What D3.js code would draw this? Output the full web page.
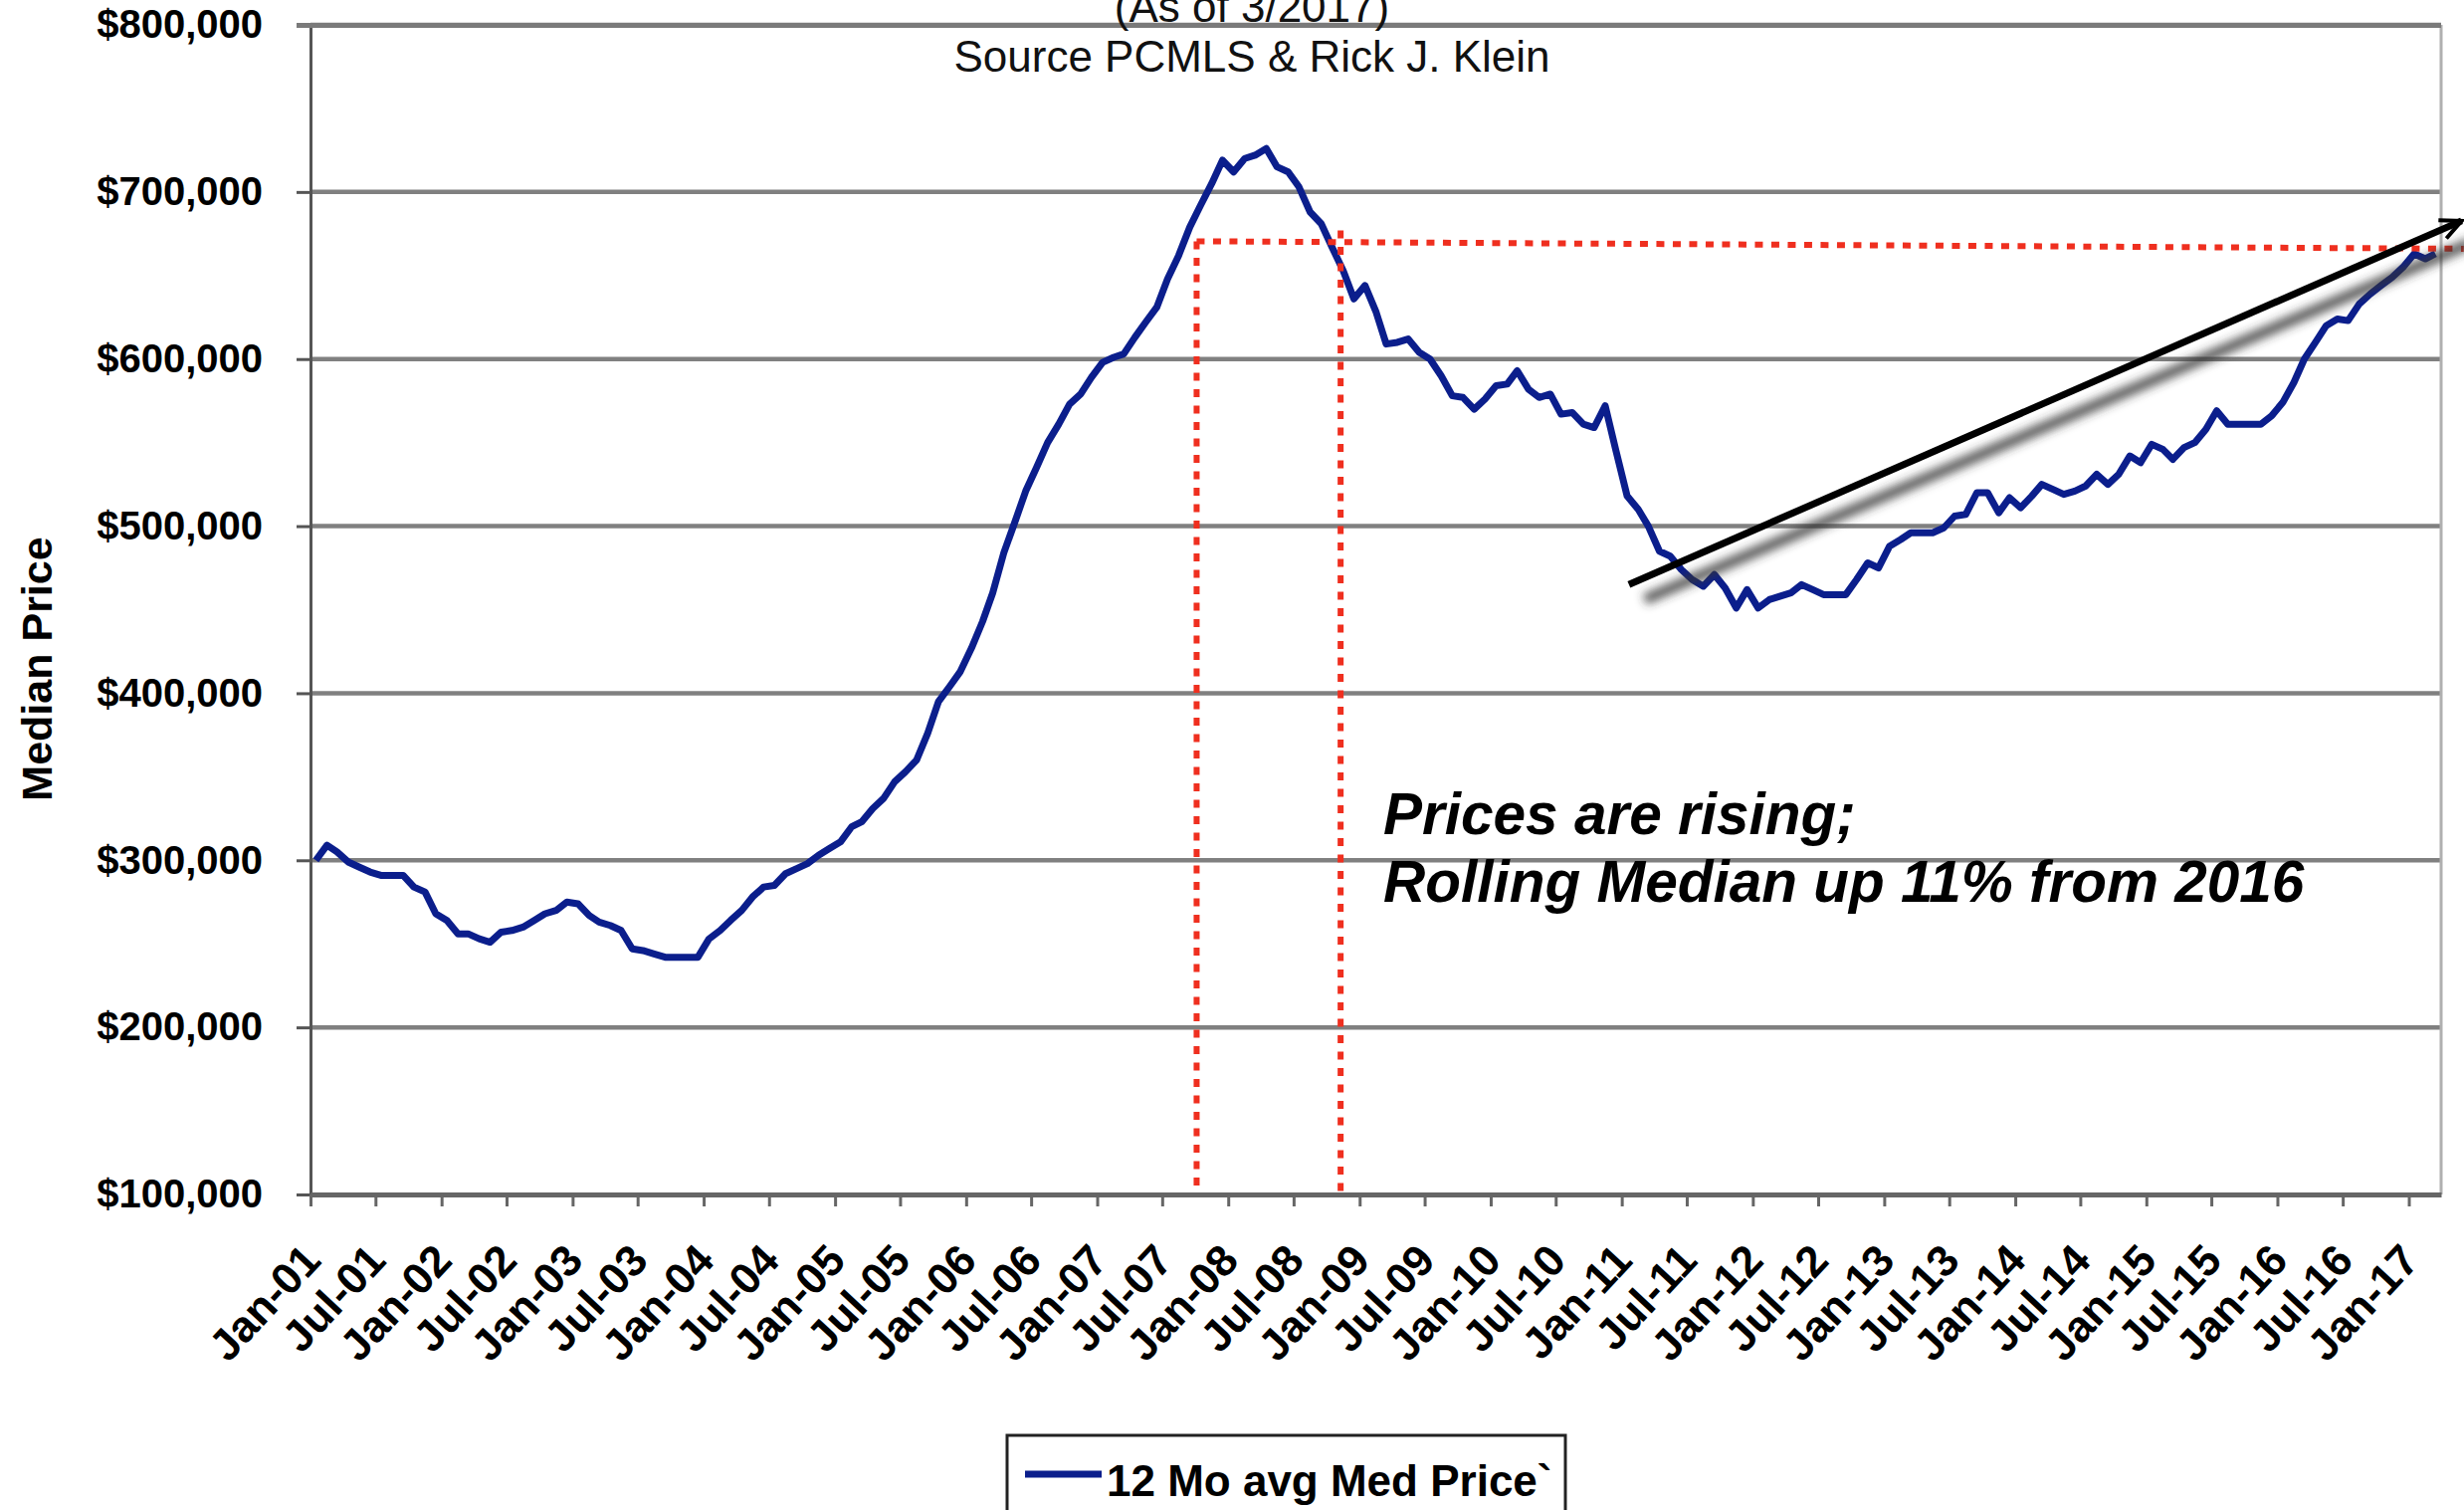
<!DOCTYPE html>
<html>
<head>
<meta charset="utf-8">
<title>12 Mo avg Med Price</title>
<script src="https://cdn.jsdelivr.net/npm/d3@7"></script>
<style>
    body { margin: 0; background: #fff; }
    svg { display: block; font-family: "Liberation Sans", Arial, Helvetica, sans-serif; }
</style>
</head>
<body>
<script>
(function(){

    //12 month average median price, one value per month from Jan-01 to Mar-17 (in $1000s)
    var priceValues = [
        300, 309, 305, 299, 296, 293, 291, 291, 291, 284,
        281, 268, 264, 256, 256, 253, 251, 257, 258, 260,
        264, 268, 270, 275, 274, 267, 263, 261, 258, 247,
        246, 244, 242, 242, 242, 242, 253, 258, 264, 270,
        278, 284, 285, 292, 295, 298, 303, 307, 311, 320,
        323, 331, 337, 347, 353, 360, 376, 395, 404, 413,
        427, 443, 460, 484, 502, 521, 535, 550, 561, 573,
        579, 589, 598, 601, 603, 613, 622, 631, 648, 662,
        679, 692, 705, 719, 712, 720, 722, 726, 715, 712,
        703, 688, 681, 667, 653, 636, 644, 628, 609, 610,
        612, 604, 600, 590, 578, 577, 570, 576, 584, 585,
        593, 582, 577, 579, 567, 568, 561, 559, 572, 545,
        518, 510, 500, 485, 482, 474, 468, 464, 471, 463,
        451, 462, 451, 456, 458, 460, 465, 462, 459, 459,
        459, 468, 478, 475, 488, 492, 496, 496, 496, 499,
        506, 507, 520, 520, 508, 517, 511, 518, 525, 522,
        519, 521, 524, 531, 525, 531, 542, 538, 549, 546,
        540, 547, 550, 558, 569, 561, 561, 561, 561, 566,
        574, 586, 600, 610, 620, 624, 623, 633, 639, 644,
        649, 655, 663, 660, 663
    ];
    var firstMonth = new Date(2001, 0, 1);
    var axisEnd = new Date(2017, 3, 1); //axis runs to the start of Apr-17
    var yTickValues = [100000, 200000, 300000, 400000, 500000, 600000, 700000, 800000];

    //texts
    var titleLines = ["(As of 3/2017)", "Source PCMLS & Rick J. Klein"];
    var yAxisTitle = "Median Price";
    var legendLabel = "12 Mo avg Med Price`";
    var noteLines = ["Prices are rising;", "Rolling Median up 11% from 2016"];

    //red dotted reference lines (dates and prices)
    var refDates = [new Date(2007, 9, 5), new Date(2008, 10, 9)];
    var refTops = [670500, 677000];
    var refLevel = [670500, 666000];
    var refEnd = new Date(2017, 5, 3);

    //trend arrow, start and end
    var arrowDates = [new Date(2011, 0, 21), new Date(2017, 4, 28)];
    var arrowValues = [465000, 682700];

    window.onload = setChart();

    function setChart(){
        var width = 2476,
            height = 1517,
            plotLeft = 312,
            plotRight = 2453,
            plotTop = 25,
            plotBottom = 1200,
            lineColor = "#0b1e8c",
            refColor = "#ef2f1f",
            gridColor = "#808080";

        var svg = d3.select("body")
            .append("svg")
            .attr("width", width)
            .attr("height", height);

        svg.append("rect")
            .attr("width", width)
            .attr("height", height)
            .attr("fill", "#fff");

        //build monthly records, each point sits in the middle of its month
        var data = priceValues.map(function(v, i){
            return {date: new Date(2001, i, 16), value: v * 1000};
        });

        var x = d3.scaleTime()
            .domain([firstMonth, axisEnd])
            .range([plotLeft, plotRight]);

        var y = d3.scaleLinear()
            .domain([100000, 800000])
            .range([plotBottom, plotTop]);

        var defs = svg.append("defs");
        defs.append("filter")
            .attr("id", "shadowBlur")
            .attr("x", "-20%").attr("y", "-40%")
            .attr("width", "140%").attr("height", "180%")
            .append("feGaussianBlur")
            .attr("stdDeviation", 5);

        defs.append("marker")
            .attr("id", "arrowHead")
            .attr("viewBox", "0 0 26 24")
            .attr("refX", 23)
            .attr("refY", 12)
            .attr("markerWidth", 26)
            .attr("markerHeight", 24)
            .attr("markerUnits", "userSpaceOnUse")
            .attr("orient", "auto")
            .append("path")
            .attr("d", "M2,2 L23,12 L2,22")
            .attr("fill", "none")
            .attr("stroke", "#000")
            .attr("stroke-width", 4);

        //horizontal gridlines
        svg.append("g")
            .attr("class", "grid")
            .selectAll("line")
            .data(yTickValues.slice(1))
            .enter()
            .append("line")
            .attr("x1", plotLeft)
            .attr("x2", plotRight)
            .attr("y1", function(d){ return y(d); })
            .attr("y2", function(d){ return y(d); })
            .attr("stroke", gridColor)
            .attr("stroke-width", 4.5);

        //right border of plot area
        svg.append("line")
            .attr("x1", plotRight).attr("x2", plotRight)
            .attr("y1", plotTop).attr("y2", plotBottom)
            .attr("stroke", "#b0b0b0")
            .attr("stroke-width", 3);

        //price line
        var line = d3.line()
            .x(function(d){ return x(d.date); })
            .y(function(d){ return y(d.value); });

        svg.append("path")
            .datum(data)
            .attr("d", line)
            .attr("fill", "none")
            .attr("stroke", lineColor)
            .attr("stroke-width", 7)
            .attr("stroke-linejoin", "round");

        //red dotted reference lines
        var refs = svg.append("g")
            .attr("fill", "none")
            .attr("stroke", refColor)
            .attr("stroke-width", 6)
            .attr("stroke-dasharray", "8,8.5");

        refDates.forEach(function(d, i){
            refs.append("line")
                .attr("x1", x(d)).attr("x2", x(d))
                .attr("y1", y(refTops[i])).attr("y2", plotBottom);
        });
        refs.append("line")
            .attr("x1", x(refDates[0])).attr("x2", x(refEnd))
            .attr("y1", y(refLevel[0])).attr("y2", y(refLevel[1]));

        //trend arrow with soft shadow
        var ax1 = x(arrowDates[0]), ay1 = y(arrowValues[0]),
            ax2 = x(arrowDates[1]), ay2 = y(arrowValues[1]);

        svg.append("line")
            .attr("x1", ax1 + 16).attr("y1", ay1 + 15)
            .attr("x2", ax2 + 10).attr("y2", ay2 + 22)
            .attr("stroke", "#333")
            .attr("stroke-opacity", 0.8)
            .attr("stroke-width", 11)
            .attr("filter", "url(#shadowBlur)");

        svg.append("line")
            .attr("x1", ax1).attr("y1", ay1)
            .attr("x2", ax2).attr("y2", ay2)
            .attr("stroke", "#000")
            .attr("stroke-width", 7)
            .attr("marker-end", "url(#arrowHead)");

        //y axis
        var yAxis = d3.axisLeft(y)
            .tickValues(yTickValues)
            .tickFormat(function(d){ return "$" + d3.format(",")(d); })
            .tickSize(14)
            .tickPadding(34);

        var yG = svg.append("g")
            .attr("transform", "translate(" + plotLeft + ",0)")
            .call(yAxis);
        yG.select(".domain")
            .attr("stroke", "#555")
            .attr("stroke-width", 3);
        yG.selectAll(".tick line")
            .attr("stroke", "#555")
            .attr("stroke-width", 3);
        yG.selectAll(".tick text")
            .attr("font-family", "'Liberation Sans', Arial, sans-serif")
            .attr("font-size", 40)
            .attr("font-weight", "bold")
            .attr("fill", "#000");
        //top gridline is heavier, like the frame
        yG.select(".tick:last-of-type line")
            .attr("x2", plotRight - plotLeft)
            .attr("x1", -14)
            .attr("stroke", "#7a7a7a")
            .attr("stroke-width", 5);

        //x axis
        var xAxis = d3.axisBottom(x)
            .ticks(d3.timeMonth.every(6))
            .tickFormat(d3.timeFormat("%b-%y"))
            .tickSize(12)
            .tickSizeOuter(0);

        var xG = svg.append("g")
            .attr("transform", "translate(0," + plotBottom + ")")
            .call(xAxis);
        xG.select(".domain")
            .attr("stroke", "#666")
            .attr("stroke-width", 5);
        xG.selectAll(".tick line")
            .attr("stroke", "#666")
            .attr("stroke-width", 3);
        xG.selectAll(".tick text")
            .attr("font-family", "'Liberation Sans', Arial, sans-serif")
            .attr("font-size", 44)
            .attr("font-weight", "bold")
            .attr("fill", "#000")
            .attr("x", 0)
            .attr("y", 0)
            .attr("dy", 0)
            .attr("text-anchor", "end")
            .attr("transform", "translate(12,68) rotate(-47)");

        //y axis title
        svg.append("text")
            .attr("transform", "translate(52,672) rotate(-90)")
            .attr("text-anchor", "middle")
            .attr("font-size", 43)
            .attr("font-weight", "bold")
            .text(yAxisTitle);

        //title lines, the first one runs off the top edge as in the source
        svg.selectAll(".chartTitle")
            .data(titleLines)
            .enter()
            .append("text")
            .attr("class", "chartTitle")
            .attr("x", 1258)
            .attr("y", function(d, i){ return 22 + i * 50; })
            .attr("text-anchor", "middle")
            .attr("font-size", 44)
            .attr("fill", "#111")
            .text(function(d){ return d; });

        //note
        svg.selectAll(".note")
            .data(noteLines)
            .enter()
            .append("text")
            .attr("class", "note")
            .attr("x", 1390)
            .attr("y", function(d, i){ return 838 + i * 68; })
            .attr("font-size", 58.5)
            .attr("font-weight", "bold")
            .attr("font-style", "italic")
            .attr("fill", "#000")
            .text(function(d){ return d; });

        //legend
        var legend = svg.append("g");
        legend.append("rect")
            .attr("x", 1012)
            .attr("y", 1442)
            .attr("width", 561)
            .attr("height", 110)
            .attr("fill", "#fff")
            .attr("stroke", "#222")
            .attr("stroke-width", 3);
        legend.append("line")
            .attr("x1", 1030).attr("x2", 1107)
            .attr("y1", 1481).attr("y2", 1481)
            .attr("stroke", lineColor)
            .attr("stroke-width", 7);
        legend.append("text")
            .attr("x", 1112)
            .attr("y", 1503)
            .attr("font-size", 44)
            .attr("font-weight", "bold")
            .text(legendLabel);
    };

})();
</script>
</body>
</html>
